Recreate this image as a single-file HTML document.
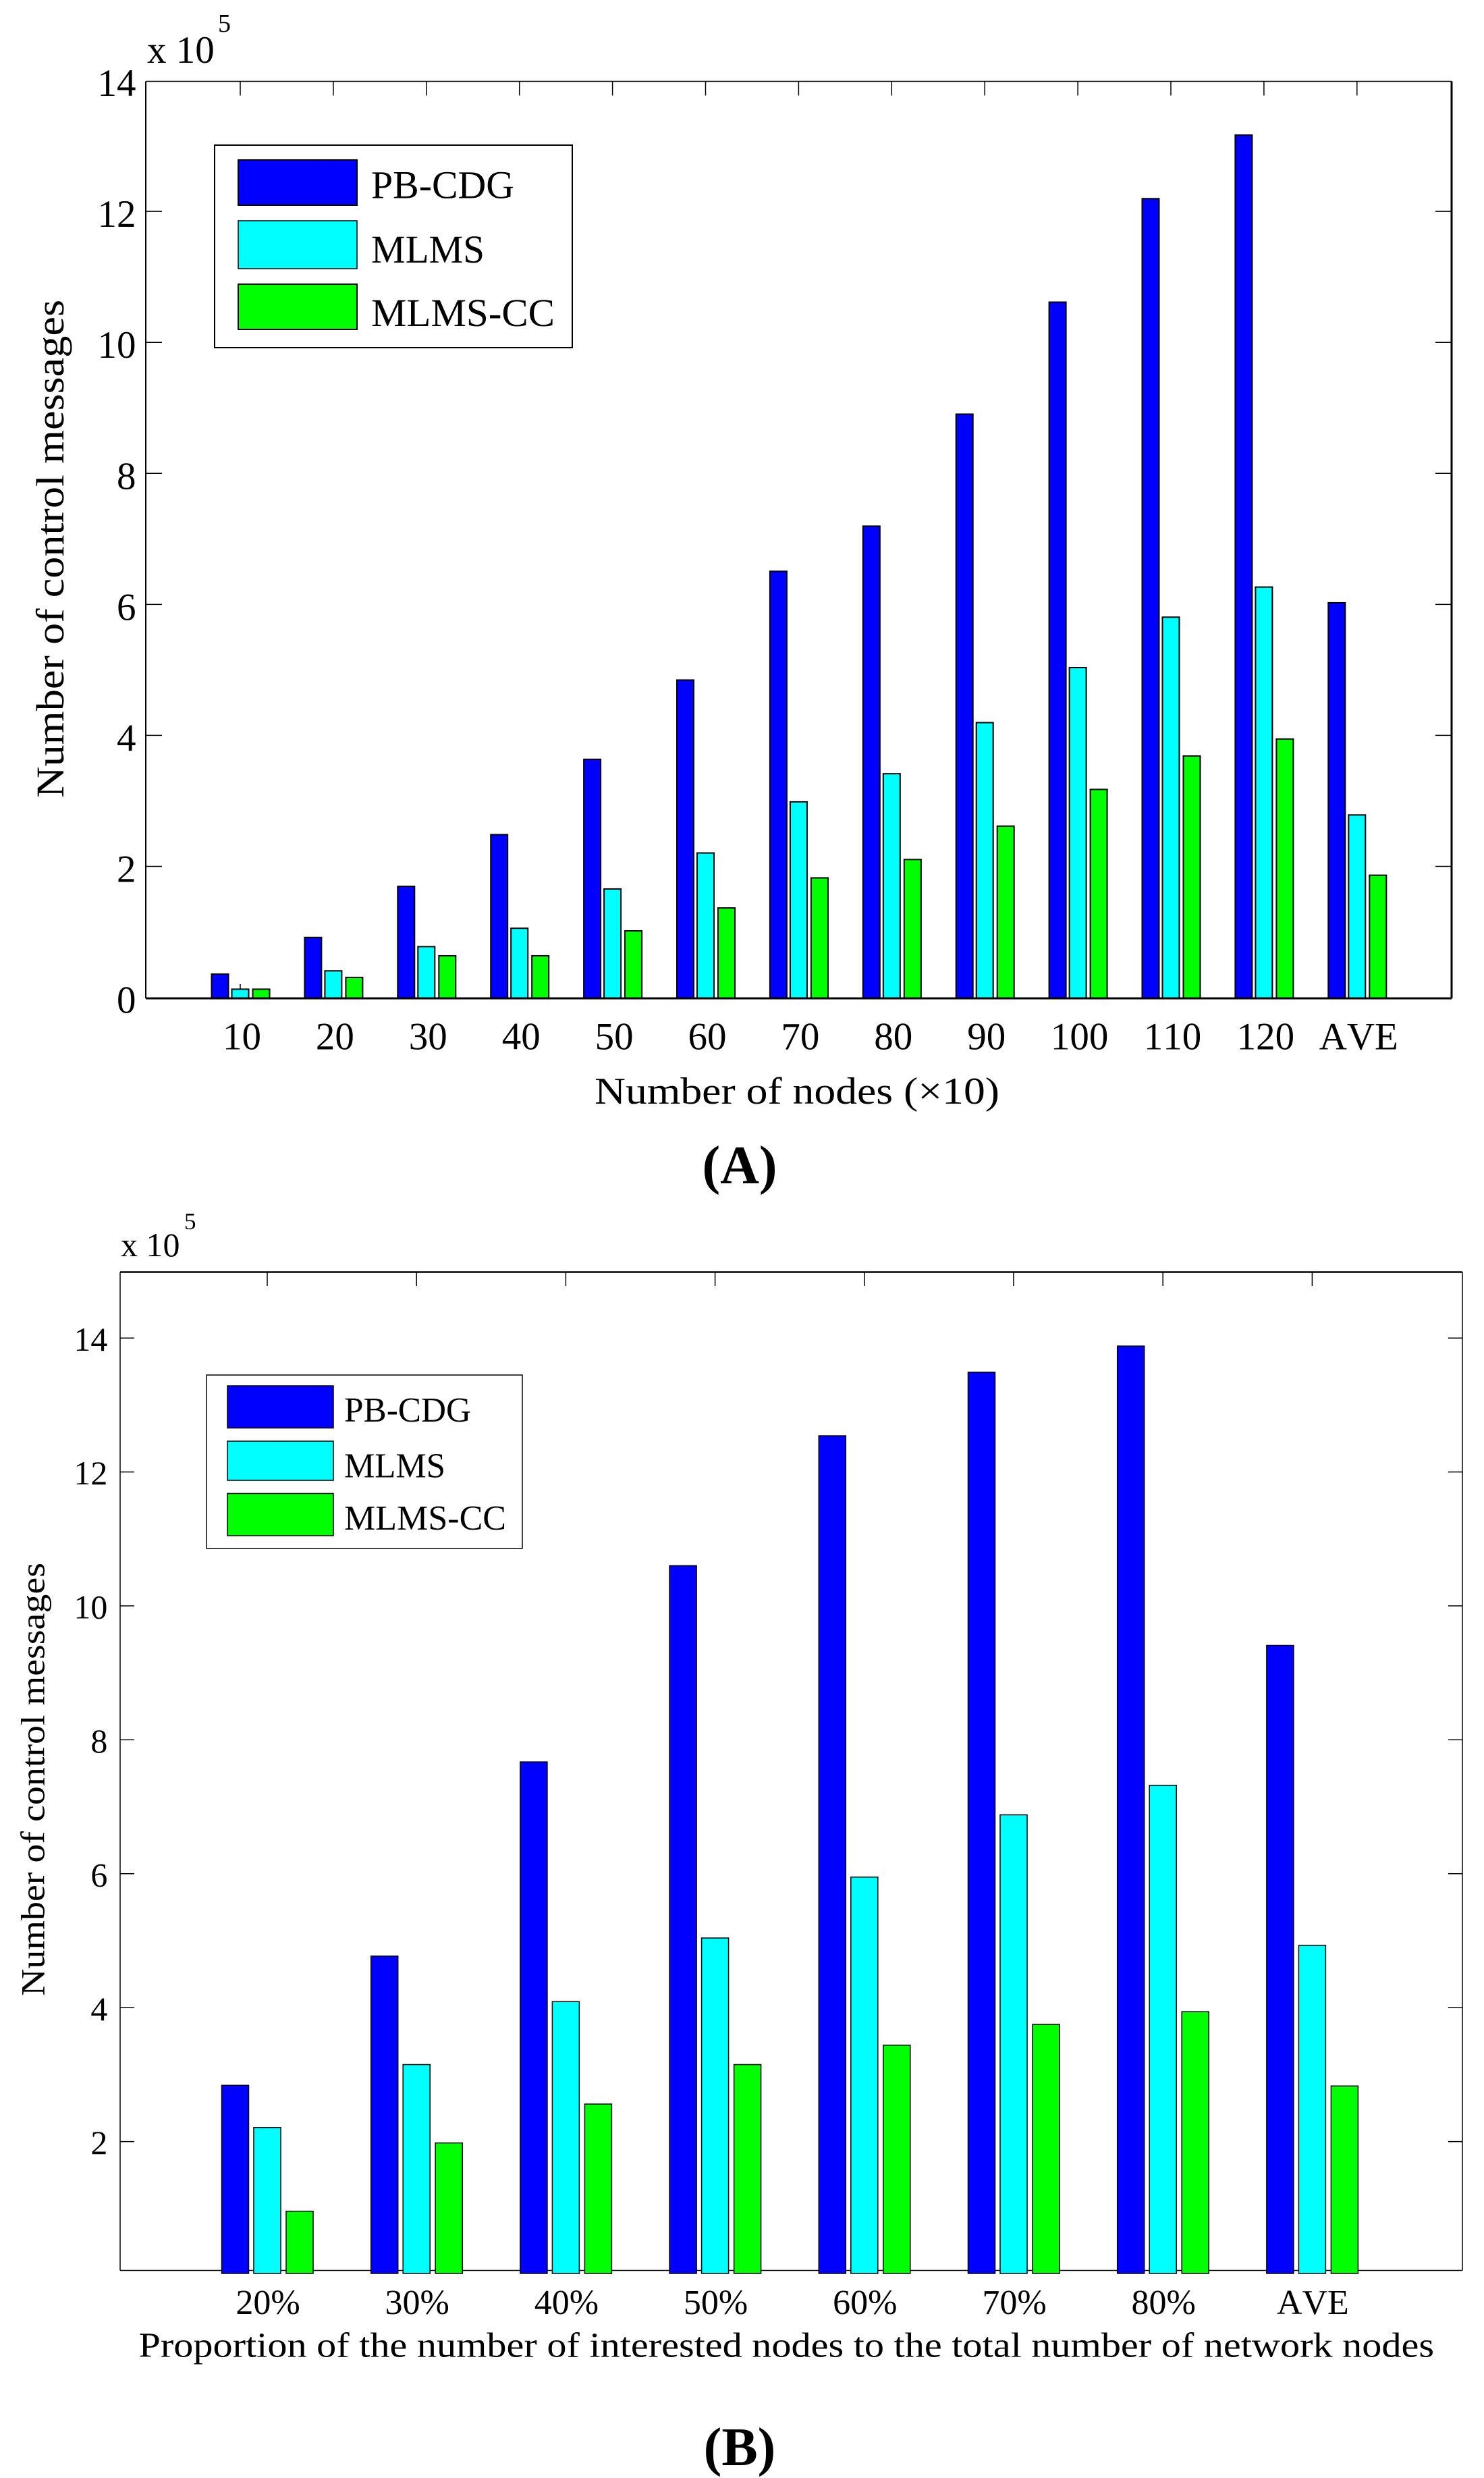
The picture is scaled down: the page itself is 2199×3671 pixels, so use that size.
<!DOCTYPE html>
<html lang="en">
<head>
<meta charset="utf-8">
<title>Number of control messages</title>
<style>
html,body{margin:0;padding:0;background:#fff;}
svg{display:block;}
text{font-family:"Liberation Serif",serif;fill:#000;font-kerning:none;}
</style>
</head>
<body>
<svg id="fig" xmlns="http://www.w3.org/2000/svg" width="2199" height="3671" viewBox="0 0 2199 3671">
  <rect x="0" y="0" width="2199" height="3671" fill="#fff"/>
  <g id="chartA"></g>
  <g id="chartB"></g>

  <g>
    <text transform="translate(94,1182) rotate(-90)" font-size="58" textLength="738" lengthAdjust="spacingAndGlyphs">Number of control messages</text>
    <text x="881" y="1635" font-size="56" textLength="600" lengthAdjust="spacingAndGlyphs">Number of nodes (×10)</text>
    <text x="218" y="93" font-size="57">x 10</text>
    <text x="323" y="47" font-size="38">5</text>
    <text x="1096" y="1753" font-size="80" font-weight="bold" text-anchor="middle">(A)</text>
  </g>

  <g>
    <rect x="318" y="215" width="530" height="300" fill="#fff" stroke="#000" stroke-width="2"/>
    <rect x="353" y="237" width="176" height="67" fill="#0000ff" stroke="#000" stroke-width="2"/>
    <rect x="353" y="327" width="176" height="71" fill="#00ffff" stroke="#000" stroke-width="1.5"/>
    <rect x="353" y="421" width="176" height="67" fill="#00ff00" stroke="#000" stroke-width="2"/>
    <text x="550" y="293.5" font-size="58" textLength="212" lengthAdjust="spacingAndGlyphs">PB-CDG</text>
    <text x="550" y="389" font-size="58" textLength="168" lengthAdjust="spacingAndGlyphs">MLMS</text>
    <text x="550" y="483" font-size="58" textLength="272" lengthAdjust="spacingAndGlyphs">MLMS-CC</text>
  </g>

  <g>
    <text transform="translate(65.7,2957) rotate(-90)" font-size="50" textLength="642" lengthAdjust="spacingAndGlyphs">Number of control messages</text>
    <text x="205.5" y="3491.5" font-size="52" textLength="1919.5" lengthAdjust="spacingAndGlyphs">Proportion of the number of interested nodes to the total number of network nodes</text>
    <text x="179" y="1861" font-size="50">x 10</text>
    <text x="273" y="1821" font-size="35">5</text>
    <text x="1096" y="3652" font-size="80" font-weight="bold" text-anchor="middle">(B)</text>
  </g>

  <g>
    <rect x="306" y="2037" width="468" height="257" fill="#fff" stroke="#000" stroke-width="1.5"/>
    <rect x="337" y="2053" width="157" height="62.5" fill="#0000ff" stroke="#000" stroke-width="1.5"/>
    <rect x="337" y="2135" width="157" height="58" fill="#00ffff" stroke="#000" stroke-width="1.5"/>
    <rect x="337" y="2212.5" width="157" height="62.5" fill="#00ff00" stroke="#000" stroke-width="1.5"/>
    <text x="510" y="2106" font-size="52" textLength="188" lengthAdjust="spacingAndGlyphs">PB-CDG</text>
    <text x="510" y="2188.3" font-size="52" textLength="150" lengthAdjust="spacingAndGlyphs">MLMS</text>
    <text x="510" y="2266" font-size="52" textLength="240" lengthAdjust="spacingAndGlyphs">MLMS-CC</text>
  </g>
</svg>
<script>
// Chart A data (values in units of 10^5)
var categoriesA = ['10','20','30','40','50','60','70','80','90','100','110','120','AVE'];
var pbCdgA  = [0.37,0.93,1.71,2.50,3.65,4.86,6.52,7.21,8.92,10.63,12.21,13.18,6.04];
var mlmsA   = [0.14,0.42,0.79,1.07,1.67,2.22,3.00,3.43,4.21,5.05,5.82,6.28,2.80];
var mlmsCcA = [0.14,0.32,0.65,0.65,1.03,1.38,1.84,2.12,2.63,3.19,3.70,3.96,1.88];
var yTicksA = [0,2,4,6,8,10,12,14];

// Chart B data (values in units of 10^5)
var categoriesB = ['20%','30%','40%','50%','60%','70%','80%','AVE'];
var pbCdgB  = [2.84,4.77,7.67,10.60,12.54,13.49,13.88,9.41];
var mlmsB   = [2.21,3.15,4.09,5.04,5.95,6.88,7.32,4.93];
var mlmsCcB = [0.96,1.98,2.56,3.15,3.44,3.75,3.94,2.83];
var yTicksB = [2,4,6,8,10,12,14];

var seriesColors = ['#0000ff','#00ffff','#00ff00'];
var seriesNames = ['pb-cdg','mlms','mlms-cc'];
var NS = 'http://www.w3.org/2000/svg';

function line(parent, name, x1, y1, x2, y2, w) {
  var el = document.createElementNS(NS, 'line');
  el.setAttribute('x1', x1);
  el.setAttribute('y1', y1);
  el.setAttribute('x2', x2);
  el.setAttribute('y2', y2);
  el.setAttribute('stroke', '#000');
  el.setAttribute('stroke-width', w);
  
  
  parent.appendChild(el);
}

function label(parent, name, x, y, size, anchor, str) {
  var el = document.createElementNS(NS, 'text');
  el.setAttribute('x', x);
  el.setAttribute('y', y);
  el.setAttribute('font-size', size);
  el.setAttribute('text-anchor', anchor);
  
  
  el.textContent = str;
  parent.appendChild(el);
}

function drawChart(root, g, categories, series, yTicks) {
  function yScale(v) { return g.y0 - v * g.unit; }
  function xScale(i) { return g.x0 + i * g.step; }

  // frame
  line(root, 'plot-top-border', g.left, g.top, g.right, g.top, g.topW);
  line(root, 'plot-left-border', g.left, g.top, g.left, g.bottom, g.leftW);
  line(root, 'plot-right-border', g.right, g.top, g.right, g.bottom, g.rightW);

  // y ticks
  yTicks.forEach(function (t) {
    var y = yScale(t) + g.tickShift;
    if (t > 0 && y > g.top + 1) {
      line(root, 'y-tick-left', g.left, y, g.left + g.tickY, y, 1.5);
      line(root, 'y-tick-right', g.right, y, g.right - g.tickY, y, 1.5);
    }
    label(root, 'y-tick-label', g.yLabelX, y + g.yLabelDy, g.yFont, 'end', String(t));
  });

  // x ticks and labels
  categories.forEach(function (c, i) {
    var x = xScale(i);
    line(root, 'x-tick-top', x, g.top, x, g.top + g.tickX, 1.5);
    line(root, 'x-tick-bottom', x, g.bottom, x, g.bottom - g.tickX, 1.5);
    label(root, 'x-tick-label', x + g.xLabelDx, g.xLabelY, g.xFont, 'middle', c);
  });

  if (g.axisUnderBars) {
    line(root, 'x-axis-line', g.left, g.bottom, g.right, g.bottom, g.bottomW);
  }

  // bars
  series.forEach(function (vals, s) {
    vals.forEach(function (v, i) {
      var top = yScale(v);
      var cx = xScale(i) + g.offsets[s];
      var el = document.createElementNS(NS, 'rect');
      el.setAttribute('x', cx - g.barW / 2);
      el.setAttribute('y', top);
      el.setAttribute('width', g.barW);
      el.setAttribute('height', Math.max(0, g.barBottom - top));
      el.setAttribute('fill', seriesColors[s]);
      el.setAttribute('stroke', '#000');
      el.setAttribute('stroke-width', g.barStroke);
      
      
      el.setAttribute('data-series', seriesNames[s]);
      root.appendChild(el);
    });
  });

  if (!g.axisUnderBars) {
    line(root, 'x-axis-line', g.left, g.bottom, g.right, g.bottom, g.bottomW);
  }
}

drawChart(document.getElementById('chartA'), {
  left: 216, right: 2151, top: 120.5, bottom: 1479, barBottom: 1479,
  y0: 1479, unit: 97.03, x0: 356, step: 137.9, tickShift: -1.5,
  offsets: [-30, 0, 31], barW: 25, barStroke: 2,
  topW: 1.5, leftW: 2, rightW: 3, bottomW: 3,
  tickY: 24, tickX: 21, yLabelX: 201.5, yLabelDy: 23, yFont: 57,
  xLabelDx: 2.5, xLabelY: 1554.5, xFont: 57, axisUnderBars: false
}, categoriesA, [pbCdgA, mlmsA, mlmsCcA], yTicksA);

drawChart(document.getElementById('chartB'), {
  left: 178, right: 2167, top: 1884.5, bottom: 3363.5, barBottom: 3368,
  y0: 3371, unit: 99.2, x0: 396, step: 221.2, tickShift: 0,
  offsets: [-47.5, 0, 48], barW: 40, barStroke: 1.5,
  topW: 2.5, leftW: 1.5, rightW: 1.5, bottomW: 1.5,
  tickY: 21, tickX: 20.5, yLabelX: 159.4, yLabelDy: 18.6, yFont: 50,
  xLabelDx: 1, xLabelY: 3428, xFont: 52, axisUnderBars: true
}, categoriesB, [pbCdgB, mlmsB, mlmsCcB], yTicksB);
</script>
</body>
</html>
